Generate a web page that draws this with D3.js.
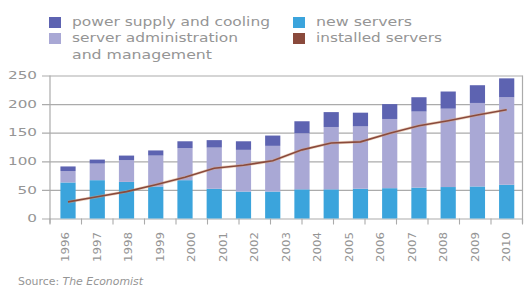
<!DOCTYPE html>
<html>
<head>
<meta charset="utf-8">
<script src="https://cdn.jsdelivr.net/npm/d3@7"></script>
<style>
  body { margin: 0; background: #fff; }
  svg text { font-family: "DejaVu Sans", sans-serif; fill: #959595; }
</style>
</head>
<body>
<div id="chart"></div>
<script>
// Chart size.
var chartWidth = 529;
var chartHeight = 305;

// Year labels on the x axis.
var yearLabels = ["1996", "1997", "1998", "1999", "2000", "2001", "2002", "2003",
                  "2004", "2005", "2006", "2007", "2008", "2009", "2010"];

// Stacked series (one value per bar), bottom to top.
var newServers = [63, 67, 64, 56, 67, 52, 47, 47, 51, 51, 52, 53, 54, 55, 56, 59];
var serverAdmin = [20, 29, 38, 54, 56, 72, 73, 80, 98, 109, 109, 121, 133, 137, 146, 153];
var powerCooling = [8, 7, 8, 9, 12, 13, 15, 18, 21, 26, 24, 26, 25, 30, 31, 33];

// Line series.
var installedServers = [29, 38, 47, 59, 72, 88, 93, 101, 120, 132, 134, 149, 162, 171, 181, 190];

var yTicks = [0, 50, 100, 150, 200, 250];

var colors = {
  "power supply and cooling": "#5d63b1",
  "server administration": "#a9a8d5",
  "new servers": "#3ba4dc",
  "installed servers": "#8a4a3c"
};

// Plot box.
var plot = { left: 50, right: 522.5, top: 75.5, bottom: 218.5, gridStart: 42 };

var svg = d3.select("#chart").append("svg")
    .attr("width", chartWidth)
    .attr("height", chartHeight);

var y = d3.scaleLinear().domain([0, 250]).range([plot.bottom, plot.top]);

// Bars sit on their own band scale (one band per data point).
var xBar = d3.scaleBand()
    .domain(d3.range(newServers.length))
    .range([53.4, 521.3])
    .paddingInner(0.48)
    .paddingOuter(0.24);

// Year labels use a band scale across the whole plot width.
var xLabel = d3.scaleBand()
    .domain(yearLabels)
    .range([plot.left, plot.right]);

// Gridlines + y labels.
var yAxis = svg.append("g")
    .attr("class", "y-axis")
    .attr("transform", "translate(" + plot.gridStart + ",0)")
    .call(d3.axisLeft(y)
      .tickValues(yTicks)
      .tickSize(-(plot.right - plot.gridStart))
      .tickPadding(5));
yAxis.select(".domain").remove();
yAxis.selectAll("line")
    .attr("stroke", "#ababab")
    .attr("stroke-width", 1.2);
yAxis.selectAll("text")
    .attr("fill", "#959595")
    .attr("font-size", 10)
    .attr("textLength", 29)
    .attr("lengthAdjust", "spacingAndGlyphs")
    .each(function(d) {
      if (d < 100) d3.select(this).attr("textLength", String(d).length * 9.7);
    });

// Vertical frame lines.
svg.selectAll("line.frame")
    .data([plot.left, plot.right])
    .enter().append("line")
    .attr("class", "frame")
    .attr("x1", function(d) { return d; })
    .attr("x2", function(d) { return d; })
    .attr("y1", plot.top)
    .attr("y2", plot.bottom + 5)
    .attr("stroke", "#ababab")
    .attr("stroke-width", 1.2);

// Stack the bars.
var stackData = newServers.map(function(v, i) {
  return { i: i, newServers: v, serverAdmin: serverAdmin[i], powerCooling: powerCooling[i] };
});
var keys = ["newServers", "serverAdmin", "powerCooling"];
var keyColors = [colors["new servers"], colors["server administration"], colors["power supply and cooling"]];
var series = d3.stack().keys(keys)(stackData);

svg.append("g").selectAll("g")
    .data(series)
    .enter().append("g")
    .attr("fill", function(d, k) { return keyColors[k]; })
    .selectAll("rect")
    .data(function(d) { return d; })
    .enter().append("rect")
    .attr("x", function(d) { return xBar(d.data.i); })
    .attr("width", xBar.bandwidth())
    .attr("y", function(d) { return y(d[1]); })
    .attr("height", function(d) { return y(d[0]) - y(d[1]); });

// Installed servers line.
var line = d3.line()
    .x(function(d, i) { return xBar(i) + xBar.bandwidth() / 2; })
    .y(function(d) { return y(d); });

svg.append("path")
    .datum(installedServers)
    .attr("fill", "none")
    .attr("stroke", "#d9a27a")
    .attr("stroke-opacity", 0.45)
    .attr("stroke-width", 3)
    .attr("d", line);
svg.append("path")
    .datum(installedServers)
    .attr("fill", "none")
    .attr("stroke", colors["installed servers"])
    .attr("stroke-width", 1.6)
    .attr("d", line);

// X axis with year labels.
var xAxis = svg.append("g")
    .attr("transform", "translate(0," + plot.bottom + ")")
    .call(d3.axisBottom(xLabel).tickSize(0).tickPadding(0));
xAxis.select(".domain").remove();
xAxis.selectAll("text")
    .attr("fill", "#959595")
    .attr("font-size", 10)
    .attr("transform", "rotate(-90)")
    .attr("text-anchor", "end")
    .attr("x", -13.5)
    .attr("y", 0)
    .attr("dy", "0.35em")
    .attr("textLength", 30)
    .attr("lengthAdjust", "spacingAndGlyphs");

// Tick marks at the band edges.
var edges = yearLabels.map(function(d) { return xLabel(d); }).concat([plot.right]);
svg.append("g").selectAll("line")
    .data(edges)
    .enter().append("line")
    .attr("x1", function(d) { return d; })
    .attr("x2", function(d) { return d; })
    .attr("y1", plot.bottom)
    .attr("y2", plot.bottom + 6)
    .attr("stroke", "#ababab")
    .attr("stroke-width", 1.1);

// Legend.
var legendItems = [
  { name: "power supply and cooling", lines: ["power supply and cooling"], x: 49, y: 17, w: 198 },
  { name: "server administration", lines: ["server administration", "and management"], x: 49, y: 33, w: 166 },
  { name: "new servers", lines: ["new servers"], x: 293, y: 17, w: 96 },
  { name: "installed servers", lines: ["installed servers"], x: 293, y: 33, w: 126 }
];

var lg = svg.append("g").selectAll("g")
    .data(legendItems)
    .enter().append("g")
    .attr("transform", function(d) { return "translate(" + d.x + "," + d.y + ")"; });

lg.append("rect")
    .attr("width", 12)
    .attr("height", 11)
    .attr("fill", function(d) { return colors[d.name]; });

lg.each(function(d) {
  var g = d3.select(this);
  d.lines.forEach(function(t, j) {
    g.append("text")
      .attr("x", 23)
      .attr("y", 9 + j * 16.5)
      .attr("font-size", 11.5)
      .attr("textLength", j === 0 ? d.w : 140)
      .attr("lengthAdjust", "spacingAndGlyphs")
      .text(t);
  });
});

// Source line.
var src = svg.append("text")
    .attr("x", 18)
    .attr("y", 285)
    .attr("font-size", 10.5)
    .attr("textLength", 125)
    .attr("lengthAdjust", "spacingAndGlyphs");
src.append("tspan").text("Source: ");
src.append("tspan").attr("font-style", "italic").text("The Economist");
</script>
</body>
</html>
